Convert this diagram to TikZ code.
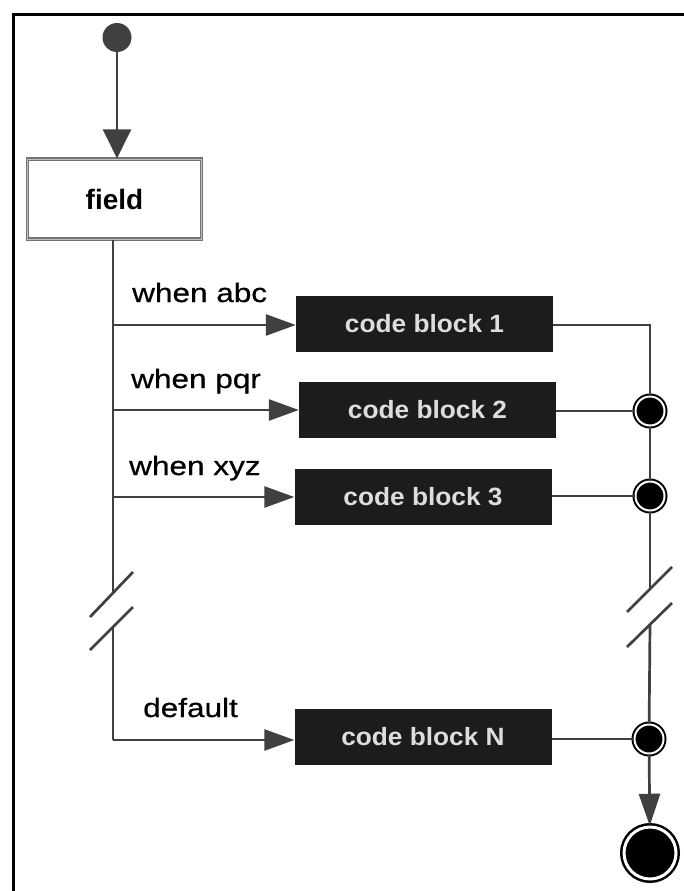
\documentclass[tikz,border=0pt]{standalone}
\usepackage{fontspec}
\setmainfont{Liberation Sans}
\newfontfamily\lblfont[FakeStretch=1.19,FakeBold=0.6]{Liberation Sans}
\newfontfamily\cbfont[FakeStretch=1.05]{Liberation Sans}
\usetikzlibrary{arrows.meta}
\definecolor{linegray}{HTML}{404040}
\definecolor{blockfill}{HTML}{1C1C1C}
\definecolor{blocktext}{HTML}{DDDDDD}
\begin{document}
\begin{tikzpicture}[x=1pt,y=-1pt,
  conn/.style={draw=linegray,line width=2.7pt},
  arr/.style={conn,-{Triangle[length=30pt,width=21pt]}},
  codeblock/.style={rectangle,fill=blockfill,text=blocktext,minimum width=257pt,minimum height=56pt,inner sep=0pt,
     font=\cbfont\bfseries\fontsize{25}{28}\selectfont},
  lbl/.style={anchor=base west,inner sep=0pt,font=\lblfont\fontsize{26.5}{30}\selectfont},
  junction/.style={circle,fill=black,draw=black,double=white,double distance=2pt,line width=2pt,minimum size=29pt,inner sep=0pt},
  brk/.style={draw=linegray,line width=2.7pt}
]
\useasboundingbox (0,0) rectangle (683,891);
\fill[white] (0,0) rectangle (683,891);
% frame
\draw[line width=3pt] (690,14.5) -- (13.5,14.5) -- (13.5,900);

% start
\node[circle,fill=linegray,minimum size=29pt,inner sep=0pt] (start) at (117,37.5) {};
\node[rectangle,draw=black!55,double=black!25,double distance=0.8pt,line width=1.2pt,minimum width=174pt,minimum height=80pt,inner sep=0pt,
      font=\bfseries\fontsize{28}{30}\selectfont] (field) at (114.5,199) {field};
\draw[conn,-{Triangle[length=29pt,width=28pt]}] (start) -- (field.north -| start);

% code blocks
\node[codeblock] (b1) at (424.5,323.5) {code block 1};
\node[codeblock] (b2) at (427.5,410) {code block 2};
\node[codeblock] (b3) at (423,496.5) {code block 3};
\node[codeblock] (bN) at (423,737) {code block N};

% labels
\node[lbl] (l1) at (132,302) {when abc};
\node[lbl] (l2) at (131,388) {when pqr};
\node[lbl] (l3) at (129,475) {when xyz};
\node[lbl] (l4) at (143,717) {default};

% left trunk coordinates
\coordinate (t1) at (113,325);
\coordinate (t2) at (113,410);
\coordinate (t3) at (113,497);
\coordinate (tb1) at (113,594);
\coordinate (tb2) at (113,628);
\coordinate (tN) at (113,740);

\draw[conn] (field.south -| t1) -- (tb1);
\draw[conn] (tb2) -- (tN);
\draw[arr] (t1) -- (t1 -| b1.west);
\draw[arr] (t2) -- (t2 -| b2.west);
\draw[arr] (t3) -- (t3 -| b3.west);
\draw[arr] (tN) -- (tN -| bN.west);

% left break slashes
\draw[brk] (90,617) -- (133,572);
\draw[brk] (90,650) -- (133,607);

% right side
\coordinate (r1) at (650,325);
\node[junction] (j2) at (650,411) {};
\node[junction] (j3) at (650,496) {};
\node[junction] (jN) at (649,739) {};
\coordinate (rb1) at (650,589);
\coordinate (rb2) at (650,624);
\node[circle,fill=black,draw=black,double=white,double distance=3pt,line width=2.5pt,minimum size=52pt,inner sep=0pt] (final) at (650,853) {};

\draw[conn] (b1.east |- r1) -- (r1) -- (j2);
\draw[conn] (b2.east |- j2) -- (j2);
\draw[conn] (j2) -- (j3);
\draw[conn] (b3.east |- j3) -- (j3);
\draw[conn] (j3) -- (rb1);
\draw[conn] (rb2) -- (jN);
\draw[conn] (bN.east |- jN) -- (jN);
\draw[conn,-{Triangle[length=32pt,width=21pt]}] (jN) -- (final);

% right break slashes
\draw[brk] (627,612) -- (672,567);
\draw[brk] (627,647) -- (672,603);
\end{tikzpicture}
\end{document}
